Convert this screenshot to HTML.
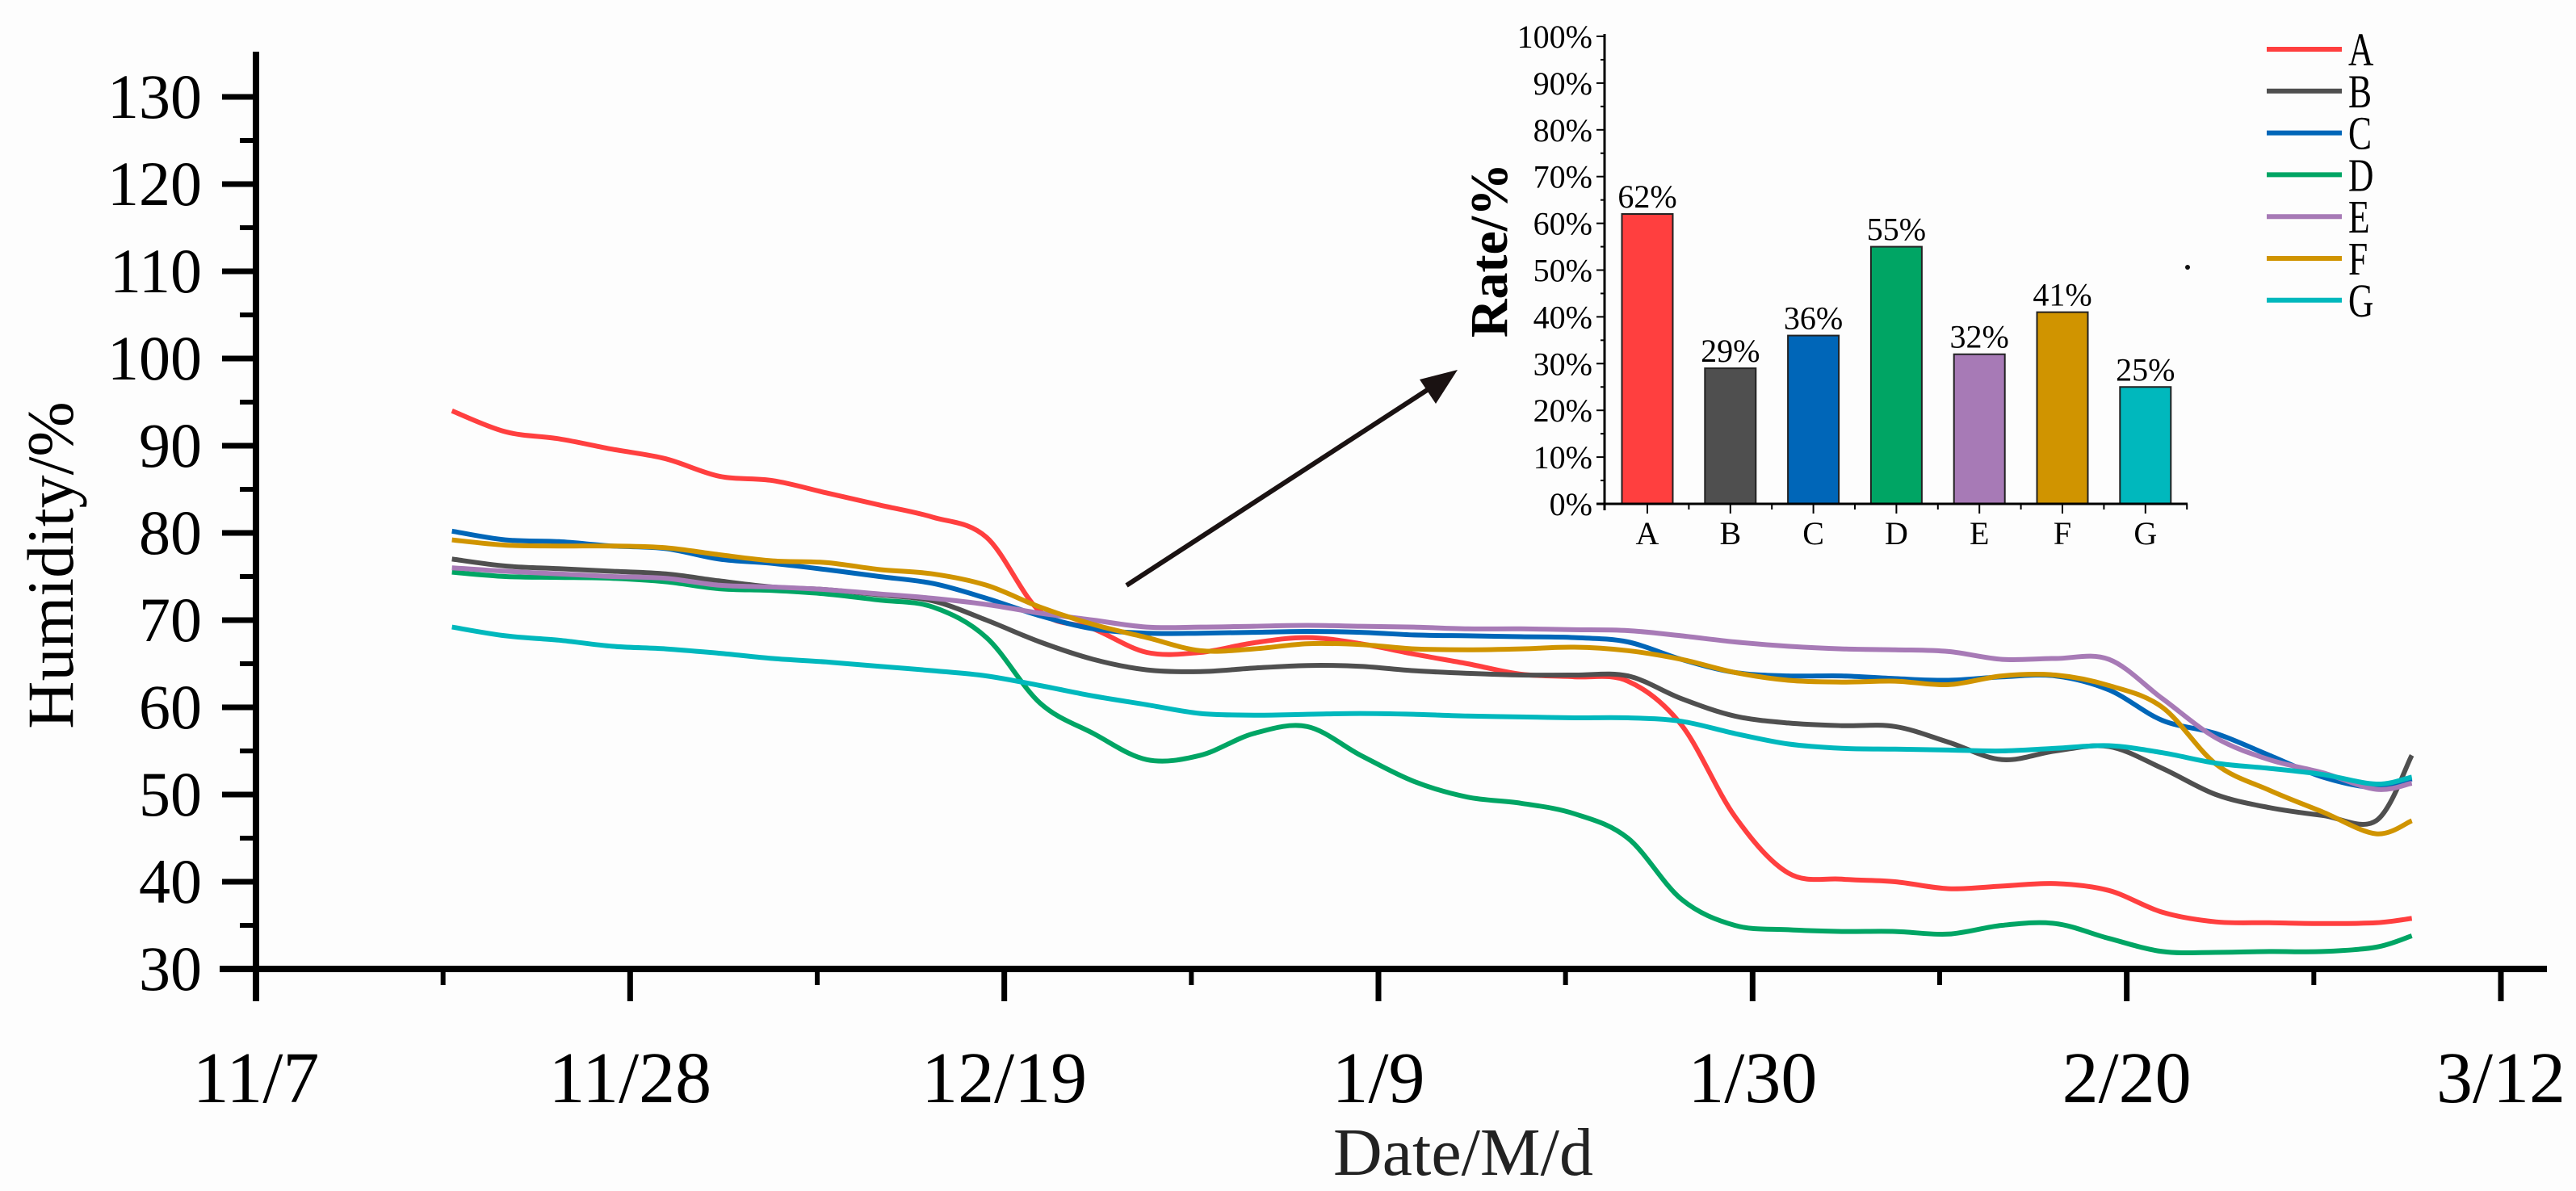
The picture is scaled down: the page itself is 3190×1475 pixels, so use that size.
<!DOCTYPE html>
<html><head><meta charset="utf-8">
<style>
html,body{margin:0;padding:0;background:#fdfdfd;}
svg{display:block;font-family:"Liberation Serif",serif;}
</style></head>
<body>
<svg id="chart" width="3190" height="1475" viewBox="0 0 3190 1475" xmlns="http://www.w3.org/2000/svg">
<rect x="0" y="0" width="3190" height="1475" fill="#fdfdfd"/>
<g id="main"></g>
<g id="inset"></g>
<g id="legend"></g>
<line x1="1395" y1="725" x2="1775" y2="478" stroke="#1a1212" stroke-width="6"/>
<polygon points="1805,458 1758,470 1778,500" fill="#1a1212"/>
<circle cx="2709" cy="331" r="3" fill="#111"/>
</svg>
<script>
const NS="http://www.w3.org/2000/svg";
const seriesNames=["A","B","C","D","E","F","G"];
const seriesColors=["#ff3f3f","#4f4f4f","#0066b8","#00a564","#a77ab6","#d09400","#00b8bd"];
const days=[11,14,17,20,23,26,29,32,35,38,41,44,47,50,53,56,59,62,65,68,71,74,77,80,83,86,89,92,95,98,101,104,107,110,113,116,119,121];
const valsA=[94,91.6,90.8,89.6,88.5,86.5,86,84.6,83.2,81.8,79.5,71,69,66.3,66.3,67.4,68,67.3,66.1,65,63.8,63.5,63,58,47.5,41,40.3,40,39.2,39.5,39.8,39,36.5,35.4,35.3,35.2,35.3,35.8];
const valsB=[77,76.2,75.9,75.6,75.3,74.5,73.8,73.5,72.9,72.2,70,67.5,65.5,64.3,64.1,64.5,64.8,64.7,64.2,63.9,63.7,63.7,63.6,61,59,58.2,57.9,57.8,56,54,55,55.5,53,50,48.5,47.6,47,54.5];
const valsC=[80.2,79.2,79,78.5,78.2,77,76.5,75.8,75,74.2,72.5,70.5,69,68.5,68.5,68.6,68.7,68.6,68.3,68.2,68.1,68,67.5,65.5,64,63.6,63.6,63.3,63.1,63.5,63.6,62,58.5,57,54.5,52,50.8,51.8];
const valsD=[75.5,75,74.9,74.8,74.4,73.6,73.4,73,72.3,71.5,68,60.5,57,54,54.5,57,57.8,54.5,51.5,49.7,49,47.8,45,38,35,34.5,34.3,34.3,34,35,35.2,33.5,32,31.9,32,32,32.5,33.8];
const valsE=[76,75.6,75.3,75,74.8,74,73.8,73.5,73,72.5,71.8,70.8,70,69.2,69.2,69.3,69.4,69.3,69.2,69,69,68.9,68.8,68.2,67.5,67,66.7,66.6,66.4,65.5,65.6,65.5,61,56.5,54,52.5,50.6,51.3];
const valsF=[79.2,78.6,78.5,78.5,78.3,77.5,76.8,76.6,75.8,75.3,74,71.5,69.5,68,66.5,66.7,67.3,67.2,66.7,66.6,66.7,66.9,66.5,65.5,64,63.1,62.9,63,62.6,63.6,63.7,62.5,60,53.5,50.5,48,45.5,47];
const valsG=[69.2,68.2,67.7,67,66.7,66.2,65.6,65.2,64.7,64.2,63.6,62.5,61.3,60.3,59.3,59.1,59.2,59.3,59.2,59,58.9,58.8,58.8,58.4,57,55.8,55.3,55.2,55.1,55,55.3,55.6,54.8,53.6,53,52.3,51.2,52];
const yTickValues=[30,40,50,60,70,80,90,100,110,120,130];
const xTickDays=[0,21,42,63,84,105,126];
const xTickLabels=["11/7","11/28","12/19","1/9","1/30","2/20","3/12"];
const barCategories=["A","B","C","D","E","F","G"];
const barValues=[62,29,36,55,32,41,25];
const barLabels=["62%","29%","36%","55%","32%","41%","25%"];
const barTickValues=[0,10,20,30,40,50,60,70,80,90,100];

const allVals=[valsA,valsB,valsC,valsD,valsE,valsF,valsG];
function mk(tag,attrs,parent,text){const e=document.createElementNS(NS,tag);for(const k in attrs)e.setAttribute(k,attrs[k]);if(text!==undefined)e.textContent=text;parent.appendChild(e);return e;}
const X0=317,PXD=(3097-317)/126,Y30=1200,PXV=10.8;
const xS=d=>X0+d*PXD, yS=v=>Y30-(v-30)*PXV;
const main=document.getElementById('main');
let e;
e=mk('line',{x1:X0,y1:64,x2:X0,y2:1240,stroke:'#000','stroke-width':8},main);


e=mk('line',{x1:272,y1:Y30,x2:3154,y2:Y30,stroke:'#000','stroke-width':8},main);


yTickValues.forEach(v=>{
  e=mk('line',{x1:X0-42,y1:yS(v),x2:X0,y2:yS(v),stroke:'#000','stroke-width':7},main);
  
  
  if(v<130){e=mk('line',{x1:X0-20,y1:yS(v+5),x2:X0,y2:yS(v+5),stroke:'#000','stroke-width':6},main);
  
  }
  e=mk('text',{x:250,y:yS(v)+26,'text-anchor':'end','font-size':78,fill:'#000'},main,String(v));
  
  
});
xTickDays.forEach((d,i)=>{
  e=mk('line',{x1:xS(d),y1:Y30,x2:xS(d),y2:Y30+40,stroke:'#000','stroke-width':7},main);
  
  
  if(i<xTickDays.length-1){e=mk('line',{x1:xS(d+10.5),y1:Y30,x2:xS(d+10.5),y2:Y30+20,stroke:'#000','stroke-width':6},main);
  
  }
  e=mk('text',{x:xS(d),y:1365,'text-anchor':'middle','font-size':90,fill:'#000'},main,xTickLabels[i]);
  
  
});
e=mk('text',{x:1812,y:1455,'text-anchor':'middle','font-size':84,fill:'#222'},main,'Date/M/d');


e=mk('text',{x:0,y:0,'text-anchor':'middle','font-size':82,fill:'#000',transform:'translate(90,700) rotate(-90)'},main,'Humidity/%');


function smoothPath(px){
  let d='M'+px[0][0].toFixed(1)+','+px[0][1].toFixed(1);
  for(let i=0;i<px.length-1;i++){
    const p0=px[Math.max(0,i-1)],p1=px[i],p2=px[i+1],p3=px[Math.min(px.length-1,i+2)];
    const c1x=p1[0]+(p2[0]-p0[0])/6,c1y=p1[1]+(p2[1]-p0[1])/6;
    const c2x=p2[0]-(p3[0]-p1[0])/6,c2y=p2[1]-(p3[1]-p1[1])/6;
    d+=' C'+c1x.toFixed(1)+','+c1y.toFixed(1)+' '+c2x.toFixed(1)+','+c2y.toFixed(1)+' '+p2[0].toFixed(1)+','+p2[1].toFixed(1);
  }
  return d;
}
allVals.forEach((vals,si)=>{
  const px=vals.map((v,i)=>[xS(days[i]),yS(v)]);
  e=mk('path',{d:smoothPath(px),fill:'none',stroke:seriesColors[si],'stroke-width':6,'stroke-linejoin':'round'},main);
  
  
});
const inset=document.getElementById('inset');
const IX0=1987,IX1=2709,IY0=624,PXP=(624-45)/100,BC0=2040,BSP=102.8,BW=63;
const iy=p=>IY0-p*PXP, ix=i=>BC0+i*BSP;
barValues.forEach((v,i)=>{
  e=mk('rect',{x:ix(i)-BW/2,y:iy(v),width:BW,height:IY0-iy(v),fill:seriesColors[i],stroke:'#222','stroke-width':2},inset);
  
  
  e=mk('text',{x:ix(i),y:iy(v)-8,'text-anchor':'middle','font-size':40,fill:'#000'},inset,barLabels[i]);
  
  
  e=mk('line',{x1:ix(i),y1:IY0,x2:ix(i),y2:IY0+12,stroke:'#000','stroke-width':2},inset);
  
  
  e=mk('line',{x1:ix(i)+BSP/2,y1:IY0,x2:ix(i)+BSP/2,y2:IY0+7,stroke:'#000','stroke-width':2},inset);
  
  
  e=mk('text',{x:ix(i),y:674,'text-anchor':'middle','font-size':40,fill:'#000'},inset,barCategories[i]);
  
  
});
e=mk('line',{x1:IX0,y1:42,x2:IX0,y2:IY0+8,stroke:'#000','stroke-width':3},inset);


e=mk('line',{x1:IX0-10,y1:IY0,x2:IX1,y2:IY0,stroke:'#000','stroke-width':3},inset);


barTickValues.forEach(p=>{
  e=mk('line',{x1:IX0-10,y1:iy(p),x2:IX0,y2:iy(p),stroke:'#000','stroke-width':2},inset);
  
  
  if(p<100){e=mk('line',{x1:IX0-5,y1:iy(p+5),x2:IX0,y2:iy(p+5),stroke:'#000','stroke-width':2},inset);
  
  }
  e=mk('text',{x:1972,y:iy(p)+14,'text-anchor':'end','font-size':40,fill:'#000'},inset,p+'%');
  
  
});
e=mk('text',{x:0,y:0,'text-anchor':'middle','font-size':66,'font-weight':'bold',fill:'#000',transform:'translate(1866,310) rotate(-90)'},inset,'Rate/%');


const legend=document.getElementById('legend');
seriesNames.forEach((n,i)=>{
  const y=61+i*51.8;
  e=mk('line',{x1:2807,y1:y,x2:2900,y2:y,stroke:seriesColors[i],'stroke-width':6},legend);
  
  
  e=mk('text',{x:0,y:0,'font-size':58,fill:'#000',transform:'translate(2908,'+(y+20)+') scale(0.75,1)'},legend,n);
  
  
});
</script>
</body></html>
